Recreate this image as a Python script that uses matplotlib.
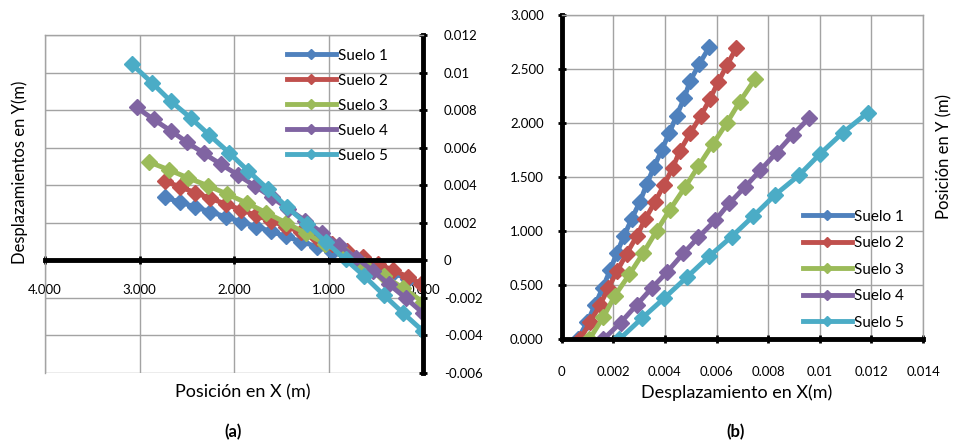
import matplotlib.pyplot as plt

plt.rcParams['font.family'] = ['Lato', 'DejaVu Sans']

names = ['Suelo 1', 'Suelo 2', 'Suelo 3', 'Suelo 4', 'Suelo 5']
colors = ['#4F81BD', '#C0504D', '#9BBB59', '#8064A2', '#4BACC6']

# ---- (a) posicion en X vs desplazamiento en Y
a_x1 = [2.73, 2.57, 2.41, 2.25, 2.09, 1.93, 1.77, 1.61, 1.45, 1.29, 1.12, 0.96, 0.80, 0.64, 0.48, 0.32, 0.16, 0.00]
a_y1 = [0.00335, 0.00310, 0.00284, 0.00258, 0.00232, 0.00206, 0.00180, 0.00154, 0.00127,
        0.00100, 0.00072, 0.00044, 0.00016, -0.00012, -0.00040, -0.00068, -0.00098, -0.00133]
a_x2 = [2.73, 2.57, 2.41, 2.25, 2.09, 1.93, 1.77, 1.61, 1.45, 1.29, 1.12, 0.96, 0.80, 0.64, 0.48, 0.32, 0.16, 0.02]
a_y2 = [0.00421, 0.00391, 0.00360, 0.00330, 0.00300, 0.00270, 0.00240, 0.00210, 0.00180,
        0.00150, 0.00118, 0.00086, 0.00052, 0.00018, -0.00018, -0.00052, -0.00088, -0.00125]
a_x3 = [2.90, 2.69, 2.49, 2.28, 2.07, 1.86, 1.66, 1.45, 1.24, 1.04, 0.83, 0.62, 0.41, 0.21, 0.00]
a_y3 = [0.00524, 0.00482, 0.00440, 0.00398, 0.00352, 0.00304, 0.00254, 0.00200, 0.00144,
        0.00088, 0.00032, -0.00024, -0.00084, -0.00148, -0.00222]
a_x4 = [3.03, 2.85, 2.67, 2.50, 2.32, 2.14, 1.96, 1.78, 1.60, 1.43, 1.25, 1.07, 0.89, 0.71, 0.53, 0.36, 0.18, 0.00]
a_y4 = [0.00814, 0.00750, 0.00690, 0.00630, 0.00570, 0.00512, 0.00455, 0.00396, 0.00336,
        0.00275, 0.00212, 0.00148, 0.00082, 0.00014, -0.00056, -0.00128, -0.00202, -0.00281]
a_x5 = [3.08, 2.87, 2.67, 2.46, 2.26, 2.05, 1.85, 1.64, 1.44, 1.23, 1.03, 0.82, 0.62, 0.41, 0.21, 0.00]
a_y5 = [0.01044, 0.00946, 0.00848, 0.00759, 0.00667, 0.00572, 0.00476, 0.00379, 0.00284,
        0.00192, 0.00098, 0.00005, -0.00085, -0.00187, -0.00281, -0.00377]

a_xticks = [4, 3, 2, 1, 0]
a_xticklabels = ['4.000', '3.000', '2.000', '1.000', '0.000']
a_yticks = [0.012, 0.010, 0.008, 0.006, 0.004, 0.002, 0.0, -0.002, -0.004, -0.006]
a_yticklabels = ['0.012', '0.01', '0.008', '0.006', '0.004', '0.002', '0', '-0.002', '-0.004', '-0.006']

# ---- (b) desplazamiento en X vs posicion en Y
b_x1 = [0.00062, 0.00099, 0.00129, 0.00159, 0.00187, 0.00213, 0.00241, 0.00271, 0.00303,
        0.00329, 0.00357, 0.00387, 0.00417, 0.00445, 0.00474, 0.00497, 0.00533, 0.00572]
b_y1 = [0.000, 0.159, 0.318, 0.478, 0.637, 0.796, 0.955, 1.114, 1.274,
        1.433, 1.592, 1.751, 1.910, 2.070, 2.229, 2.388, 2.547, 2.706]
b_x2 = [0.00071, 0.00110, 0.00148, 0.00181, 0.00215, 0.00252, 0.00290, 0.00323, 0.00361,
        0.00396, 0.00430, 0.00458, 0.00497, 0.00538, 0.00574, 0.00606, 0.00641, 0.00677]
b_y2 = [0.000, 0.159, 0.318, 0.476, 0.635, 0.794, 0.953, 1.111, 1.270,
        1.429, 1.588, 1.746, 1.905, 2.064, 2.223, 2.381, 2.540, 2.699]
b_x3 = [0.00107, 0.00161, 0.00206, 0.00262, 0.00316, 0.00368, 0.00419, 0.00477, 0.00529,
        0.00585, 0.00639, 0.00690, 0.00748]
b_y3 = [0.000, 0.205, 0.405, 0.600, 0.800, 1.005, 1.200, 1.405, 1.600, 1.805, 2.000, 2.200, 2.404]
b_x4 = [0.00161, 0.00228, 0.00290, 0.00348, 0.00409, 0.00471, 0.00529, 0.00594, 0.00649,
        0.00710, 0.00770, 0.00832, 0.00894, 0.00957]
b_y4 = [0.000, 0.154, 0.318, 0.472, 0.626, 0.795, 0.943, 1.100, 1.258, 1.410, 1.566, 1.726, 1.890, 2.044]
b_x5 = [0.00223, 0.00310, 0.00396, 0.00484, 0.00572, 0.00658, 0.00742, 0.00826, 0.00920,
        0.01000, 0.01088, 0.01185]
b_y5 = [0.000, 0.194, 0.379, 0.573, 0.770, 0.950, 1.140, 1.335, 1.520, 1.714, 1.910, 2.096]

b_xticks = [0, 0.002, 0.004, 0.006, 0.008, 0.010, 0.012, 0.014]
b_xticklabels = ['0', '0.002', '0.004', '0.006', '0.008', '0.01', '0.012', '0.014']
b_yticks = [0, 0.5, 1.0, 1.5, 2.0, 2.5, 3.0]
b_yticklabels = ['0.000', '0.500', '1.000', '1.500', '2.000', '2.500', '3.000']

grid_c = '#a3a3a3'

fig = plt.figure(figsize=(9.56, 4.43), dpi=100)

# ------------------ (a)
ax1 = fig.add_axes([0.0471, 0.158, 0.3954, 0.763])
ax1.set_axisbelow(True)
for xs, ys, c, n in zip([a_x1, a_x2, a_x3, a_x4, a_x5], [a_y1, a_y2, a_y3, a_y4, a_y5], colors, names):
    ax1.plot(xs, ys, '-', color=c, lw=3.5, marker='D', ms=8.5, label=n)
ax1.set_xlim(4, 0)
ax1.set_ylim(-0.006, 0.012)
ax1.set_xticks(a_xticks)
ax1.set_xticklabels(a_xticklabels)
ax1.set_yticks(a_yticks)
ax1.set_yticklabels(a_yticklabels)
ax1.yaxis.tick_right()
ax1.spines['bottom'].set_position(('data', 0))
for s in ['bottom', 'right']:
    ax1.spines[s].set_color('black')
    ax1.spines[s].set_linewidth(3.5)
for s in ['left', 'top']:
    ax1.spines[s].set_color(grid_c)
    ax1.spines[s].set_linewidth(1)
ax1.grid(True, color=grid_c, lw=1)
ax1.tick_params(axis='x', direction='inout', length=6, width=2, pad=14, labelsize=9.5)
ax1.tick_params(axis='y', direction='inout', length=6, width=2, pad=12, labelsize=9.5)
ax1.legend(loc='upper left', bbox_to_anchor=(0.300, 0.890), bbox_transform=fig.transFigure,
           frameon=False, handlelength=3.2, handletextpad=0.15, labelspacing=0.72,
           fontsize=11, borderpad=0, borderaxespad=0, markerscale=0.55)
fig.text(0.021, 0.612, 'Desplazamientos en Y(m)', rotation=90, ha='center', va='center', fontsize=12)
fig.text(0.254, 0.115, 'Posición en X (m)', ha='center', va='center', fontsize=13)
fig.text(0.244, 0.025, '(a)', ha='center', va='center', fontsize=12, fontweight='bold')

# ------------------ (b)
ax2 = fig.add_axes([0.5876, 0.234, 0.378, 0.732])
ax2.set_axisbelow(True)
for xs, ys, c, n in zip([b_x1, b_x2, b_x3, b_x4, b_x5], [b_y1, b_y2, b_y3, b_y4, b_y5], colors, names):
    ax2.plot(xs, ys, '-', color=c, lw=3.5, marker='D', ms=8.5, label=n)
ax2.set_xlim(0, 0.014)
ax2.set_ylim(0, 3.0)
ax2.set_xticks(b_xticks)
ax2.set_xticklabels(b_xticklabels)
ax2.set_yticks(b_yticks)
ax2.set_yticklabels(b_yticklabels)
for s in ['bottom', 'left']:
    ax2.spines[s].set_color('black')
    ax2.spines[s].set_linewidth(3.5)
for s in ['right', 'top']:
    ax2.spines[s].set_color(grid_c)
    ax2.spines[s].set_linewidth(1)
ax2.grid(True, color=grid_c, lw=1)
ax2.tick_params(axis='x', direction='inout', length=6, width=2, pad=16, labelsize=9.5)
ax2.tick_params(axis='y', direction='inout', length=6, width=2, pad=10, labelsize=9.5)
ax2.legend(loc='upper left', bbox_to_anchor=(0.840, 0.527), bbox_transform=fig.transFigure,
           frameon=False, handlelength=3.2, handletextpad=0.15, labelspacing=0.82,
           fontsize=11, borderpad=0, borderaxespad=0, markerscale=0.55)
fig.text(0.771, 0.113, 'Desplazamiento en X(m)', ha='center', va='center', fontsize=13)
fig.text(0.988, 0.646, 'Posición en Y (m)', rotation=90, ha='center', va='center', fontsize=12)
fig.text(0.769, 0.025, '(b)', ha='center', va='center', fontsize=12, fontweight='bold')

fig.savefig('out.png', dpi=100)
